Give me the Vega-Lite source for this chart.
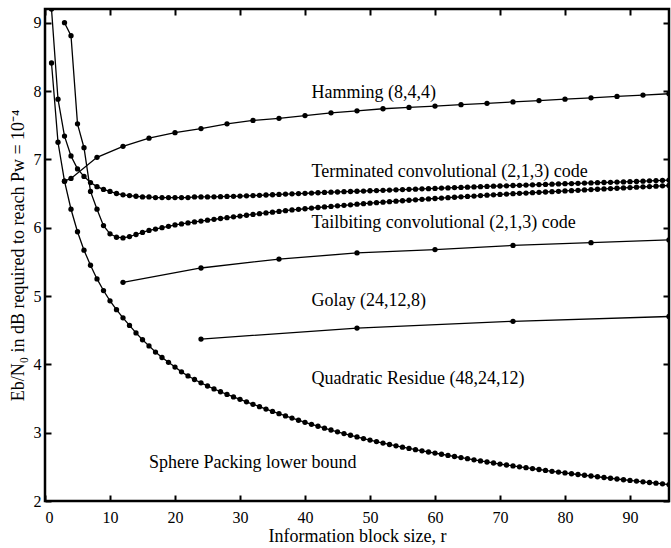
{
  "$schema": "https://vega.github.io/schema/vega-lite/v6.json",
  "autosize": "none",
  "width": 624,
  "height": 492,
  "padding": {"left": 45, "top": 9, "right": 2, "bottom": 47},
  "background": "white",
  "config": {
    "view": {"stroke": "black", "strokeWidth": 2.5},
    "axis": {
      "grid": false,
      "domain": false,
      "offset": -6,
      "labelFont": "Liberation Serif",
      "labelFontSize": 16,
      "labelColor": "black",
      "titleFont": "Liberation Serif",
      "titleFontSize": 18,
      "titleFontWeight": "normal",
      "titleColor": "black",
      "tickColor": "black",
      "tickWidth": 2,
      "tickSize": 6
    }
  },
  "datasets": {
    "curves": [
      {"s":"sphere","r":1,"y":8.41},{"s":"sphere","r":2,"y":7.25},{"s":"sphere","r":3,"y":6.68},{"s":"sphere","r":4,"y":6.27},{"s":"sphere","r":5,"y":5.94},{"s":"sphere","r":6,"y":5.67},{"s":"sphere","r":7,"y":5.45},{"s":"sphere","r":8,"y":5.25},{"s":"sphere","r":9,"y":5.08},{"s":"sphere","r":10,"y":4.93},
      {"s":"sphere","r":11,"y":4.80},{"s":"sphere","r":12,"y":4.68},{"s":"sphere","r":13,"y":4.57},{"s":"sphere","r":14,"y":4.46},{"s":"sphere","r":15,"y":4.36},{"s":"sphere","r":16,"y":4.27},{"s":"sphere","r":17,"y":4.18},{"s":"sphere","r":18,"y":4.10},{"s":"sphere","r":19,"y":4.03},{"s":"sphere","r":20,"y":3.96},
      {"s":"sphere","r":21,"y":3.89},{"s":"sphere","r":22,"y":3.83},{"s":"sphere","r":23,"y":3.778},{"s":"sphere","r":24,"y":3.729},{"s":"sphere","r":25,"y":3.683},{"s":"sphere","r":26,"y":3.640},{"s":"sphere","r":27,"y":3.599},{"s":"sphere","r":28,"y":3.560},{"s":"sphere","r":29,"y":3.523},{"s":"sphere","r":30,"y":3.488},
      {"s":"sphere","r":31,"y":3.451},{"s":"sphere","r":32,"y":3.415},{"s":"sphere","r":33,"y":3.380},{"s":"sphere","r":34,"y":3.345},{"s":"sphere","r":35,"y":3.311},{"s":"sphere","r":36,"y":3.278},{"s":"sphere","r":37,"y":3.245},{"s":"sphere","r":38,"y":3.213},{"s":"sphere","r":39,"y":3.182},{"s":"sphere","r":40,"y":3.151},
      {"s":"sphere","r":41,"y":3.122},{"s":"sphere","r":42,"y":3.094},{"s":"sphere","r":43,"y":3.066},{"s":"sphere","r":44,"y":3.039},{"s":"sphere","r":45,"y":3.013},{"s":"sphere","r":46,"y":2.987},{"s":"sphere","r":47,"y":2.962},{"s":"sphere","r":48,"y":2.938},{"s":"sphere","r":49,"y":2.914},{"s":"sphere","r":50,"y":2.891},
      {"s":"sphere","r":51,"y":2.869},{"s":"sphere","r":52,"y":2.848},{"s":"sphere","r":53,"y":2.827},{"s":"sphere","r":54,"y":2.807},{"s":"sphere","r":55,"y":2.788},{"s":"sphere","r":56,"y":2.769},{"s":"sphere","r":57,"y":2.751},{"s":"sphere","r":58,"y":2.734},{"s":"sphere","r":59,"y":2.717},{"s":"sphere","r":60,"y":2.701},
      {"s":"sphere","r":61,"y":2.684},{"s":"sphere","r":62,"y":2.667},{"s":"sphere","r":63,"y":2.651},{"s":"sphere","r":64,"y":2.635},{"s":"sphere","r":65,"y":2.619},{"s":"sphere","r":66,"y":2.603},{"s":"sphere","r":67,"y":2.587},{"s":"sphere","r":68,"y":2.571},{"s":"sphere","r":69,"y":2.556},{"s":"sphere","r":70,"y":2.541},
      {"s":"sphere","r":71,"y":2.527},{"s":"sphere","r":72,"y":2.513},{"s":"sphere","r":73,"y":2.500},{"s":"sphere","r":74,"y":2.487},{"s":"sphere","r":75,"y":2.474},{"s":"sphere","r":76,"y":2.461},{"s":"sphere","r":77,"y":2.448},{"s":"sphere","r":78,"y":2.435},{"s":"sphere","r":79,"y":2.423},{"s":"sphere","r":80,"y":2.411},
      {"s":"sphere","r":81,"y":2.399},{"s":"sphere","r":82,"y":2.388},{"s":"sphere","r":83,"y":2.377},{"s":"sphere","r":84,"y":2.366},{"s":"sphere","r":85,"y":2.355},{"s":"sphere","r":86,"y":2.344},{"s":"sphere","r":87,"y":2.333},{"s":"sphere","r":88,"y":2.322},{"s":"sphere","r":89,"y":2.311},{"s":"sphere","r":90,"y":2.301},
      {"s":"sphere","r":91,"y":2.291},{"s":"sphere","r":92,"y":2.281},{"s":"sphere","r":93,"y":2.271},{"s":"sphere","r":94,"y":2.261},{"s":"sphere","r":95,"y":2.251},{"s":"sphere","r":96,"y":2.241},

      {"s":"term","r":1,"y":9.2},{"s":"term","r":2,"y":7.88},{"s":"term","r":3,"y":7.34},{"s":"term","r":4,"y":7.05},{"s":"term","r":5,"y":6.86},{"s":"term","r":6,"y":6.75},{"s":"term","r":7,"y":6.66},{"s":"term","r":8,"y":6.60},{"s":"term","r":9,"y":6.56},{"s":"term","r":10,"y":6.53},
      {"s":"term","r":11,"y":6.50},{"s":"term","r":12,"y":6.48},{"s":"term","r":13,"y":6.47},{"s":"term","r":14,"y":6.46},{"s":"term","r":15,"y":6.45},{"s":"term","r":16,"y":6.45},{"s":"term","r":17,"y":6.44},{"s":"term","r":18,"y":6.44},{"s":"term","r":19,"y":6.44},{"s":"term","r":20,"y":6.44},
      {"s":"term","r":21,"y":6.44},{"s":"term","r":22,"y":6.44},{"s":"term","r":23,"y":6.45},{"s":"term","r":24,"y":6.45},{"s":"term","r":25,"y":6.45},{"s":"term","r":26,"y":6.452},{"s":"term","r":27,"y":6.454},{"s":"term","r":28,"y":6.457},{"s":"term","r":29,"y":6.459},{"s":"term","r":30,"y":6.462},
      {"s":"term","r":31,"y":6.466},{"s":"term","r":32,"y":6.470},{"s":"term","r":33,"y":6.474},{"s":"term","r":34,"y":6.478},{"s":"term","r":35,"y":6.482},{"s":"term","r":36,"y":6.487},{"s":"term","r":37,"y":6.491},{"s":"term","r":38,"y":6.495},{"s":"term","r":39,"y":6.499},{"s":"term","r":40,"y":6.503},
      {"s":"term","r":41,"y":6.507},{"s":"term","r":42,"y":6.511},{"s":"term","r":43,"y":6.515},{"s":"term","r":44,"y":6.519},{"s":"term","r":45,"y":6.522},{"s":"term","r":46,"y":6.526},{"s":"term","r":47,"y":6.529},{"s":"term","r":48,"y":6.533},{"s":"term","r":49,"y":6.536},{"s":"term","r":50,"y":6.540},
      {"s":"term","r":51,"y":6.543},{"s":"term","r":52,"y":6.547},{"s":"term","r":53,"y":6.550},{"s":"term","r":54,"y":6.554},{"s":"term","r":55,"y":6.557},{"s":"term","r":56,"y":6.561},{"s":"term","r":57,"y":6.564},{"s":"term","r":58,"y":6.568},{"s":"term","r":59,"y":6.571},{"s":"term","r":60,"y":6.575},
      {"s":"term","r":61,"y":6.579},{"s":"term","r":62,"y":6.582},{"s":"term","r":63,"y":6.586},{"s":"term","r":64,"y":6.589},{"s":"term","r":65,"y":6.593},{"s":"term","r":66,"y":6.596},{"s":"term","r":67,"y":6.600},{"s":"term","r":68,"y":6.603},{"s":"term","r":69,"y":6.607},{"s":"term","r":70,"y":6.610},
      {"s":"term","r":71,"y":6.613},{"s":"term","r":72,"y":6.617},{"s":"term","r":73,"y":6.620},{"s":"term","r":74,"y":6.623},{"s":"term","r":75,"y":6.627},{"s":"term","r":76,"y":6.630},{"s":"term","r":77,"y":6.633},{"s":"term","r":78,"y":6.637},{"s":"term","r":79,"y":6.640},{"s":"term","r":80,"y":6.643},
      {"s":"term","r":81,"y":6.646},{"s":"term","r":82,"y":6.649},{"s":"term","r":83,"y":6.652},{"s":"term","r":84,"y":6.655},{"s":"term","r":85,"y":6.658},{"s":"term","r":86,"y":6.661},{"s":"term","r":87,"y":6.664},{"s":"term","r":88,"y":6.667},{"s":"term","r":89,"y":6.670},{"s":"term","r":90,"y":6.673},
      {"s":"term","r":91,"y":6.677},{"s":"term","r":92,"y":6.681},{"s":"term","r":93,"y":6.685},{"s":"term","r":94,"y":6.689},{"s":"term","r":95,"y":6.693},{"s":"term","r":96,"y":6.697},

      {"s":"tail","r":3,"y":9.0},{"s":"tail","r":4,"y":8.81},{"s":"tail","r":5,"y":7.52},{"s":"tail","r":6,"y":7.17},{"s":"tail","r":7,"y":6.53},{"s":"tail","r":8,"y":6.27},{"s":"tail","r":9,"y":6.03},{"s":"tail","r":10,"y":5.91},
      {"s":"tail","r":11,"y":5.86},{"s":"tail","r":12,"y":5.85},{"s":"tail","r":13,"y":5.87},{"s":"tail","r":14,"y":5.90},{"s":"tail","r":15,"y":5.93},{"s":"tail","r":16,"y":5.96},{"s":"tail","r":17,"y":5.98},{"s":"tail","r":18,"y":6.00},{"s":"tail","r":19,"y":6.02},{"s":"tail","r":20,"y":6.04},
      {"s":"tail","r":21,"y":6.055},{"s":"tail","r":22,"y":6.070},{"s":"tail","r":23,"y":6.084},{"s":"tail","r":24,"y":6.097},{"s":"tail","r":25,"y":6.110},{"s":"tail","r":26,"y":6.122},{"s":"tail","r":27,"y":6.134},{"s":"tail","r":28,"y":6.146},{"s":"tail","r":29,"y":6.158},{"s":"tail","r":30,"y":6.170},
      {"s":"tail","r":31,"y":6.182},{"s":"tail","r":32,"y":6.193},{"s":"tail","r":33,"y":6.204},{"s":"tail","r":34,"y":6.215},{"s":"tail","r":35,"y":6.226},{"s":"tail","r":36,"y":6.237},{"s":"tail","r":37,"y":6.248},{"s":"tail","r":38,"y":6.259},{"s":"tail","r":39,"y":6.268},{"s":"tail","r":40,"y":6.277},
      {"s":"tail","r":41,"y":6.286},{"s":"tail","r":42,"y":6.295},{"s":"tail","r":43,"y":6.303},{"s":"tail","r":44,"y":6.311},{"s":"tail","r":45,"y":6.319},{"s":"tail","r":46,"y":6.327},{"s":"tail","r":47,"y":6.335},{"s":"tail","r":48,"y":6.343},{"s":"tail","r":49,"y":6.351},{"s":"tail","r":50,"y":6.359},
      {"s":"tail","r":51,"y":6.366},{"s":"tail","r":52,"y":6.373},{"s":"tail","r":53,"y":6.380},{"s":"tail","r":54,"y":6.387},{"s":"tail","r":55,"y":6.394},{"s":"tail","r":56,"y":6.401},{"s":"tail","r":57,"y":6.408},{"s":"tail","r":58,"y":6.415},{"s":"tail","r":59,"y":6.421},{"s":"tail","r":60,"y":6.427},
      {"s":"tail","r":61,"y":6.433},{"s":"tail","r":62,"y":6.439},{"s":"tail","r":63,"y":6.445},{"s":"tail","r":64,"y":6.451},{"s":"tail","r":65,"y":6.457},{"s":"tail","r":66,"y":6.463},{"s":"tail","r":67,"y":6.469},{"s":"tail","r":68,"y":6.475},{"s":"tail","r":69,"y":6.481},{"s":"tail","r":70,"y":6.487},
      {"s":"tail","r":71,"y":6.492},{"s":"tail","r":72,"y":6.497},{"s":"tail","r":73,"y":6.502},{"s":"tail","r":74,"y":6.507},{"s":"tail","r":75,"y":6.512},{"s":"tail","r":76,"y":6.517},{"s":"tail","r":77,"y":6.522},{"s":"tail","r":78,"y":6.527},{"s":"tail","r":79,"y":6.532},{"s":"tail","r":80,"y":6.537},
      {"s":"tail","r":81,"y":6.542},{"s":"tail","r":82,"y":6.547},{"s":"tail","r":83,"y":6.552},{"s":"tail","r":84,"y":6.557},{"s":"tail","r":85,"y":6.562},{"s":"tail","r":86,"y":6.567},{"s":"tail","r":87,"y":6.572},{"s":"tail","r":88,"y":6.577},{"s":"tail","r":89,"y":6.582},{"s":"tail","r":90,"y":6.587},
      {"s":"tail","r":91,"y":6.592},{"s":"tail","r":92,"y":6.597},{"s":"tail","r":93,"y":6.602},{"s":"tail","r":94,"y":6.607},{"s":"tail","r":95,"y":6.612},{"s":"tail","r":96,"y":6.617},

      {"s":"hamming","r":3,"y":6.68},{"s":"hamming","r":4,"y":6.72},{"s":"hamming","r":8,"y":7.03},{"s":"hamming","r":12,"y":7.19},{"s":"hamming","r":16,"y":7.31},{"s":"hamming","r":20,"y":7.39},{"s":"hamming","r":24,"y":7.45},{"s":"hamming","r":28,"y":7.52},{"s":"hamming","r":32,"y":7.57},{"s":"hamming","r":36,"y":7.60},{"s":"hamming","r":40,"y":7.64},{"s":"hamming","r":44,"y":7.68},{"s":"hamming","r":48,"y":7.71},{"s":"hamming","r":52,"y":7.74},{"s":"hamming","r":56,"y":7.76},{"s":"hamming","r":60,"y":7.78},{"s":"hamming","r":64,"y":7.80},{"s":"hamming","r":68,"y":7.82},{"s":"hamming","r":72,"y":7.84},{"s":"hamming","r":76,"y":7.86},{"s":"hamming","r":80,"y":7.88},{"s":"hamming","r":84,"y":7.90},{"s":"hamming","r":88,"y":7.92},{"s":"hamming","r":92,"y":7.94},{"s":"hamming","r":96,"y":7.96},

      {"s":"golay","r":12,"y":5.20},{"s":"golay","r":24,"y":5.41},{"s":"golay","r":36,"y":5.54},{"s":"golay","r":48,"y":5.63},{"s":"golay","r":60,"y":5.68},{"s":"golay","r":72,"y":5.74},{"s":"golay","r":84,"y":5.78},{"s":"golay","r":96,"y":5.82},

      {"s":"qr","r":24,"y":4.37},{"s":"qr","r":48,"y":4.53},{"s":"qr","r":72,"y":4.63},{"s":"qr","r":96,"y":4.70}
    ],
    "labels": [
      {"label":"Hamming (8,4,4)","r":41.0,"y":7.90},
      {"label":"Terminated convolutional (2,1,3) code","r":41.0,"y":6.74},
      {"label":"Tailbiting convolutional (2,1,3) code","r":41.0,"y":6.00},
      {"label":"Golay (24,12,8)","r":41.0,"y":4.85},
      {"label":"Quadratic Residue (48,24,12)","r":41.0,"y":3.71},
      {"label":"Sphere Packing lower bound","r":16.0,"y":2.49}
    ]
  },
  "layer": [
    {
      "data": {"name": "curves"},
      "mark": {"type": "line", "color": "black", "strokeWidth": 1.3, "clip": true},
      "encoding": {
        "x": {"field": "r", "type": "quantitative", "scale": {"domain": [0, 96], "nice": false, "zero": false},
              "axis": {"orient": "bottom", "values": [0,10,20,30,40,50,60,70,80,90], "title": "Information block size, r", "labelPadding": 8, "titlePadding": 2}},
        "y": {"field": "y", "type": "quantitative", "scale": {"domain": [2, 9.2], "nice": false, "zero": false},
              "axis": {"orient": "left", "values": [2,3,4,5,6,7,8,9], "title": "Eb/N₀ in dB required to reach Pw = 10⁻⁴", "labelPadding": 4, "titlePadding": 6}},
        "detail": {"field": "s"}
      }
    },
    {
      "data": {"name": "curves"},
      "mark": {"type": "point", "filled": true, "color": "black", "opacity": 1, "size": 28, "clip": true},
      "encoding": {
        "x": {"field": "r", "type": "quantitative", "axis": {"orient": "top", "values": [0,10,20,30,40,50,60,70,80,90], "labels": false, "title": null}},
        "y": {"field": "y", "type": "quantitative", "axis": {"orient": "right", "values": [2,3,4,5,6,7,8,9], "labels": false, "title": null}}
      }
    },
    {
      "data": {"name": "labels"},
      "mark": {"type": "text", "align": "left", "baseline": "alphabetic", "font": "Liberation Serif", "fontSize": 18, "color": "black"},
      "encoding": {
        "x": {"field": "r", "type": "quantitative", "axis": null},
        "y": {"field": "y", "type": "quantitative", "axis": null},
        "text": {"field": "label"}
      }
    }
  ],
  "resolve": {"axis": {"x": "independent", "y": "independent"}}
}
